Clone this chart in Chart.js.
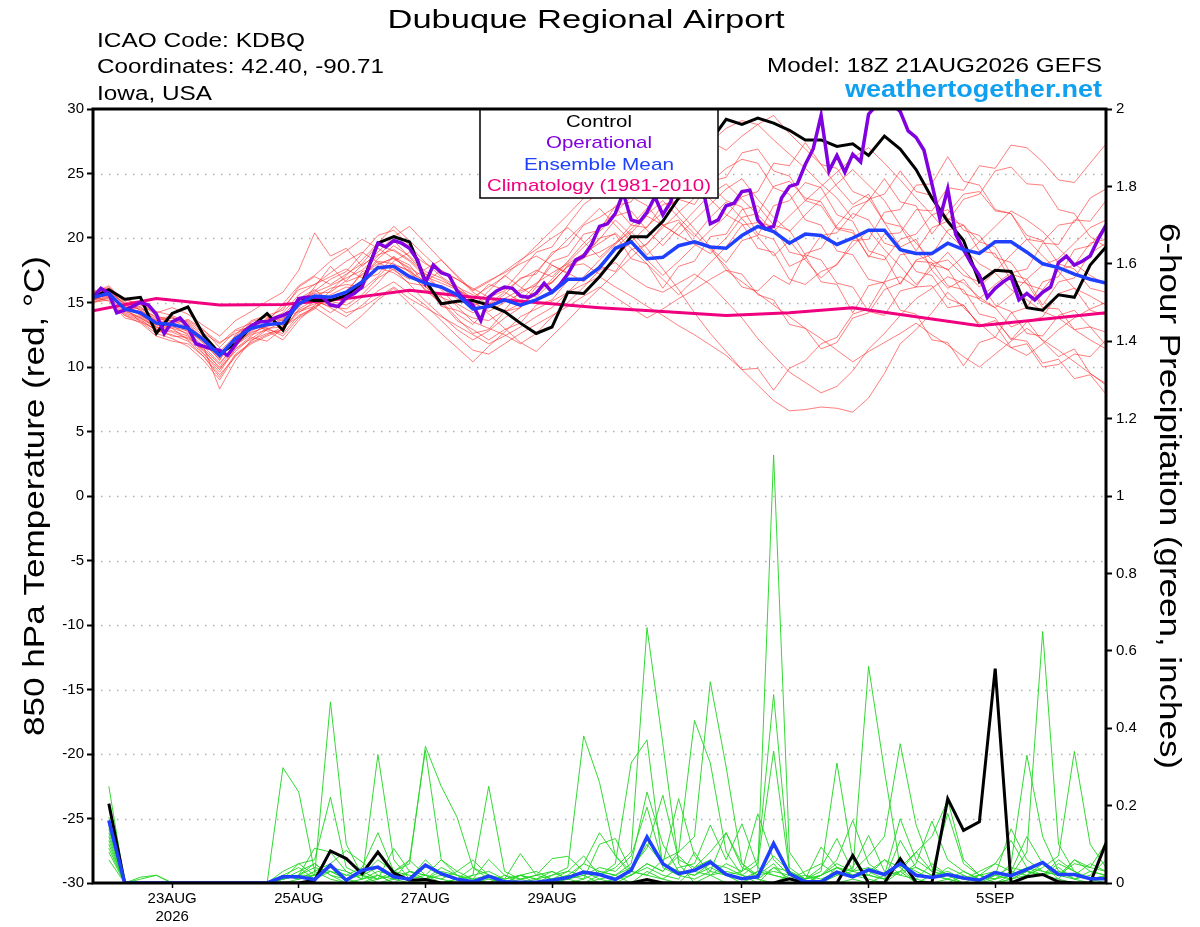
<!DOCTYPE html>
<html>
<head>
<meta charset="utf-8">
<script src="https://cdn.jsdelivr.net/npm/chart.js@4.4.1/dist/chart.umd.min.js"></script>
<style>
  html, body { margin: 0; padding: 0; background: #fff; }
  #wrap { width: 1200px; height: 927px; }
</style>
</head>
<body>
<div id="wrap"><canvas id="c" width="1200" height="927"></canvas></div>
<script>
// forecast hours since 18Z 21AUG2026
const hours6 = [0,6,12,18,24,30,36,42,48,54,60,66,72,78,84,90,96,102,108,114,120,126,132,138,144,150,156,162,168,174,180,186,192,198,204,210,216,222,228,234,240,246,252,258,264,270,276,282,288,294,300,306,312,318,324,330,336,342,348,354,360,366,372,378,384]
const hours3 = [0,3,6,9,12,15,18,21,24,27,30,33,36,39,42,45,48,51,54,57,60,63,66,69,72,75,78,81,84,87,90,93,96,99,102,105,108,111,114,117,120,123,126,129,132,135,138,141,144,147,150,153,156,159,162,165,168,171,174,177,180,183,186,189,192,195,198,201,204,207,210,213,216,219,222,225,228,231,234,237,240,243,246,249,252,255,258,261,264,267,270,273,276,279,282,285,288,291,294,297,300,303,306,309,312,315,318,321,324,327,330,333,336,339,342,345,348,351,354,357,360,363,366,369,372,375,378,381,384]
const precipHours = hours6.slice(1)

const tickHours = [30, 78, 126, 174, 246, 294, 342]
const tickLabels = [['23AUG', '2026'], '25AUG', '27AUG', '29AUG', '1SEP', '3SEP', '5SEP']

// 850 hPa temperature (C)
const controlTemp = [15.4,16.0,15.25,15.4,12.6,14.15,14.65,12.45, 11.05,11.8,13.1,14.15,12.85,15.3,15.15,15.15, 15.55,16.5,19.6,20.1,19.7,16.7,14.9,15.1, 15.15,14.8,14.3,13.4,12.6,13.1,15.8,15.7, 17.0,18.5,20.1,20.1,21.3,23.1,25.5,27.5, 29.2,28.8,29.3,28.9,28.35,27.6,27.6,27.1, 27.3,26.4,27.9,26.9,25.3,23.1,21.3,19.8, 16.6,17.5,17.4,14.6,14.4,15.6,15.4,17.9, 19.3]
const operTemp = [15.4,16.1,15.7,14.2,14.4,14.7,15.0,14.8, 14.1,12.6,13.5,13.8,13.1,11.8,11.6,11.4, 11.3,10.9,11.7,12.7,13.2,13.5,13.5,13.8, 14.0,14.3,15.3,15.4,15.4,15.4,14.8,14.7, 15.4,15.7,16.2,18.0,19.6,19.3,19.8,19.6, 19.2,18.3,16.5,17.9,17.3,17.1,15.9,15.2, 14.8,13.6,15.4,15.9,16.2,16.1,15.5,15.4, 15.7,16.5,15.8,16.4,17.2,18.3,18.6,19.5, 20.9,21.1,21.9,23.5,21.4,21.2,22.0,23.2, 21.8,22.8,25.0,26.0,25.5,24.0,21.1,21.4, 22.5,22.7,23.6,23.7,21.4,20.7,20.9,23.1, 24.0,24.2,25.7,26.9,29.5,25.2,26.4,25.1, 26.5,25.9,29.6,30.3,30.2,30.4,29.8,28.3, 27.8,26.8,24.2,21.5,23.8,20.3,19.1,18.0, 17.1,15.4,16.1,16.6,17.0,15.2,15.7,15.2, 15.8,16.2,18.1,18.6,17.9,18.2,18.6,19.9, 21.0]
const meanTemp = [15.4,15.7,14.5,14.2,13.4,13.3,13.0,12.1, 10.9,12.2,13.0,13.3,13.4,14.9,15.5,15.4, 15.8,16.6,17.7,17.8,17.0,16.5,16.2,15.6, 14.5,14.7,15.2,14.8,15.2,15.8,16.8,16.8, 17.7,19.2,19.7,18.4,18.5,19.4,19.7,19.3, 19.2,20.2,20.9,20.5,19.6,20.3,20.2,19.5, 20.0,20.6,20.6,19.1,18.8,18.8,19.6,19.1, 18.8,19.7,19.7,18.9,18.0,17.7,17.2,16.8, 16.5]
const climHours = [0,24,48,72,96,120,144,168,192,216,240,264,288,312,336,360,384]
const climTemp = [14.35,15.3,14.8,14.85,15.3,15.95,15.4,15.0,14.6,14.3,14.0,14.2,14.6,13.9,13.2,13.7,14.2]

// ensemble members (temperature, 6-hourly)
const m01 = [15.6,16.2,15.0,14.6,13.8,13.9,13.2,12.0, 10.5,12.5,13.6,14.0,14.4,16.2,17.0,16.4, 17.2,18.0,19.5,19.0,18.2,17.0,16.5,16.0, 15.2,16.4,16.0,17.4,18.9,19.3,21.0,22.6, 23.5,24.8,25.5,24.0,25.8,27.0,28.2,27.5, 26.8,27.9,28.8,29.5,28.1,26.9,25.7,24.0, 22.6,23.4,21.2,19.3,19.9,17.5,16.1,16.8, 15.2,14.6,13.1,13.6,12.0,10.8,11.4,9.5, 8.6]
const m02 = [15.2,15.5,14.1,13.7,12.8,12.5,12.0,10.8, 9.4,10.8,12.0,12.9,13.5,15.0,15.8,16.3, 16.9,17.5,18.6,19.8,18.5,17.2,16.0,14.7, 13.5,13.0,12.5,11.8,12.6,13.9,15.0,16.2, 17.5,18.1,17.0,16.2,15.8,16.5,17.2,16.4, 15.1,13.8,12.2,10.9,9.6,8.8,8.0,8.5, 9.7,11.4,12.6,14.0,15.3,16.1,17.0,16.5, 15.4,14.6,15.6,16.8,17.9,18.4,19.6,20.8, 21.4]
const m03 = [15.0,15.4,14.8,14.9,14.0,13.5,13.6,12.8, 11.9,12.6,13.2,13.0,12.4,13.8,14.5,15.6, 16.2,16.0,17.0,18.2,18.9,18.0,17.4,16.8, 16.1,15.4,15.9,16.8,17.5,17.0,18.2,19.6, 20.8,22.0,23.2,22.5,21.0,20.2,21.4,22.6, 23.8,24.6,23.0,21.6,20.5,21.8,23.0,24.2, 25.3,24.1,22.9,21.0,19.6,18.3,17.5,18.6, 19.7,20.9,22.1,21.4,20.5,19.2,18.0,17.1, 16.4]
const m04 = [15.8,15.9,14.3,13.9,13.1,12.8,12.4,11.2, 10.0,11.6,12.8,13.4,14.0,15.3,16.0,15.1, 14.8,15.6,16.9,17.6,16.4,15.1,14.0,12.9, 12.1,12.8,13.8,14.6,15.9,16.6,17.8,18.5, 18.9,19.6,20.5,19.2,17.6,16.0,14.2,12.6, 11.2,9.8,8.6,7.4,6.6,6.7,6.9,6.8, 6.5,7.6,9.5,11.8,12.9,14.2,15.8,14.6, 13.4,12.3,11.5,10.9,11.8,12.9,13.8,14.5, 15.0]
const m05 = [15.3,16.0,15.3,14.8,14.2,14.6,14.1,13.2, 12.4,13.6,14.3,15.1,15.8,17.5,20.4,18.6, 19.2,17.8,18.9,20.1,20.9,19.6,18.3,17.0, 15.8,15.0,14.3,14.9,15.6,16.8,18.1,19.3, 20.5,21.7,22.1,20.6,19.4,20.8,22.1,23.4, 24.2,23.0,21.8,20.5,21.7,22.9,24.0,25.1, 26.2,27.0,25.8,24.5,23.1,21.8,20.4,19.2, 18.0,17.3,16.0,15.2,14.3,13.8,12.9,12.1, 11.4]
const m06 = [15.5,15.6,14.6,14.3,13.6,13.0,12.6,11.5, 8.3,10.5,12.1,12.6,12.9,14.4,14.9,15.0, 14.2,14.6,15.4,16.2,15.3,14.6,13.9,13.2, 12.5,11.8,12.4,13.1,13.9,14.6,15.8,17.0, 18.3,19.5,20.7,21.8,22.9,21.6,20.3,19.1, 17.8,16.2,15.9,17.1,16.4,18.8,19.2,21.0, 22.4,22.9,24.6,22.8,22.5,20.3,21.9,23.4, 23.6,22.1,21.9,20.2,19.8,18.0,17.6,16.1, 15.8]
const m07 = [15.1,15.3,14.0,13.6,12.9,12.7,12.2,11.4, 10.2,11.9,12.6,13.2,13.8,14.3,14.7,15.2, 15.9,17.2,18.0,18.4,17.7,16.9,16.1,15.3, 14.6,15.9,17.1,16.2,15.4,16.6,17.8,18.0, 17.2,18.5,19.7,18.3,17.1,18.2,19.4,20.6, 21.7,23.2,23.6,25.8,25.6,27.4,25.7,25.4, 23.6,23.1,21.2,20.9,19.0,20.8,21.3,23.0, 23.4,25.2,25.5,24.2,24.1,22.2,21.9,20.1, 19.3]
const m08 = [15.7,16.3,15.1,14.4,13.7,13.8,13.5,12.6, 11.8,12.9,13.4,12.8,12.1,13.6,14.8,15.9, 17.1,18.3,19.6,20.9,19.8,18.6,17.5,16.3, 15.2,14.1,13.0,11.9,11.2,12.4,13.6,14.9, 16.1,17.3,18.5,19.6,20.8,22.0,23.1,24.3, 25.4,26.1,25.8,23.9,23.4,21.4,21.0,19.0, 18.7,16.8,16.5,14.4,14.1,12.1,11.9,10.1, 11.9,12.3,14.2,14.6,16.6,17.0,19.1,19.4, 21.0]
const m09 = [15.4,15.8,14.9,14.0,13.2,13.4,12.9,11.8, 10.6,12.2,13.5,13.9,13.2,15.4,15.0,14.2, 15.1,16.8,17.2,18.6,17.3,16.0,15.4,14.9, 14.2,14.9,15.8,15.1,16.4,17.9,17.2,18.8, 19.9,21.4,20.2,18.7,19.9,21.2,20.1,21.6, 22.8,21.5,20.1,18.6,19.8,18.3,16.9,18.0, 19.4,20.6,19.1,17.8,16.4,17.6,18.9,17.5, 16.2,17.4,18.7,19.9,18.6,17.4,16.1,15.5, 14.8]
const m10 = [15.9,16.1,14.7,14.5,13.9,13.3,13.7,12.9, 11.5,12.8,13.1,13.7,14.6,16.0,16.4,17.3, 18.2,18.9,18.1,17.5,16.8,17.6,18.3,17.1, 15.9,16.6,17.4,18.3,19.1,20.0,20.8,19.7, 18.5,19.6,21.0,22.3,23.6,22.1,20.7,19.3, 18.1,19.8,20.2,22.5,22.9,24.3,23.9,21.8, 21.3,19.0,18.6,16.4,18.3,18.7,20.6,21.0, 19.7,19.3,17.2,16.8,14.8,16.6,16.9,18.8, 19.6]
const m11 = [15.0,15.2,13.8,13.5,12.6,12.2,11.6,10.5, 9.0,10.9,11.8,12.4,12.9,14.5,15.2,14.6, 13.9,14.8,15.9,16.6,15.7,14.8,13.6,12.4, 11.3,11.0,11.8,12.6,13.3,14.0,14.7,15.5, 16.2,15.4,14.6,13.8,14.5,15.3,16.0,16.8, 17.5,16.6,15.7,14.8,13.9,13.0,12.2,11.3, 10.4,11.2,11.9,12.6,13.4,12.5,11.7,10.8, 10.0,11.0,12.0,13.0,12.1,11.3,10.4,9.5, 8.7]
const m12 = [15.6,15.9,14.4,14.7,13.5,13.6,13.1,12.3, 11.2,12.4,13.3,13.6,14.2,15.6,16.4,17.0, 17.6,16.9,18.4,19.4,18.6,17.4,16.9,16.0, 15.4,16.2,17.0,18.2,19.4,20.6,21.8,23.1, 24.2,25.4,26.3,25.1,24.0,25.2,26.3,27.4, 28.5,29.1,28.8,27.6,26.5,25.4,24.2,23.1, 21.5,23.0,23.4,25.2,23.6,23.3,21.5,21.0, 19.0,18.8,16.7,16.5,14.6,14.5,12.9,13.1, 11.7]
const m13 = [15.2,15.7,14.2,13.8,13.0,13.2,12.5,11.0, 9.8,11.4,12.4,13.5,14.9,16.3,17.1,18.2, 19.0,19.9,19.2,18.4,17.6,16.2,15.5,14.1, 13.3,14.6,15.3,16.0,17.4,18.7,19.9,21.1, 22.3,21.0,19.7,20.9,22.0,23.1,24.2,23.0, 21.8,21.1,19.2,18.9,16.8,16.4,17.4,17.9, 19.8,19.9,22.0,22.2,24.1,24.2,26.3,24.4, 24.1,22.2,21.9,19.9,19.7,21.0,21.2,23.1, 23.8]
const m14 = [15.5,15.5,14.7,14.0,13.3,13.1,12.8,11.9, 10.7,12.0,12.7,13.1,13.7,15.2,15.7,15.8, 16.7,17.9,18.7,19.1,18.3,17.2,16.7,16.1, 15.0,14.3,15.0,15.7,16.5,17.3,18.0,18.8, 19.6,20.4,19.2,18.0,16.8,15.6,16.8,18.1, 19.3,21.0,21.2,20.9,18.9,18.6,16.6,16.4, 14.2,16.3,16.6,18.7,18.9,17.9,17.6,15.7, 15.3,16.4,17.3,17.6,19.6,19.5,21.4,21.3, 22.9]
const m15 = [15.3,16.0,15.2,14.9,14.3,14.0,13.4,12.4, 11.0,12.3,12.9,13.4,13.9,14.6,16.2,17.8, 16.6,17.1,18.2,18.0,17.4,16.6,17.5,16.8, 16.0,16.7,17.3,18.0,18.6,17.9,17.3,16.6, 17.9,19.2,20.4,21.7,21.0,20.2,19.5,18.8, 20.0,21.6,21.9,24.0,24.4,23.1,22.8,20.8, 20.6,18.5,20.3,20.4,22.2,22.1,23.9,23.7, 25.6,25.4,27.2,27.0,25.9,24.5,24.3,25.8, 27.3]
const m16 = [15.4,15.1,14.0,13.4,12.4,12.0,11.8,10.8, 9.2,11.0,11.9,12.5,13.1,13.9,14.6,13.8, 13.0,14.0,15.2,16.1,14.9,13.8,12.6,11.5, 10.4,11.6,12.7,13.9,14.5,15.1,15.8,16.4, 17.0,16.2,15.5,14.7,14.0,13.2,12.5,11.7, 10.9,9.8,9.9,8.2,9.9,10.5,11.8,12.3, 14.1,14.5,16.6,17.0,16.2,16.3,14.6,14.8, 13.2,13.3,11.5,11.8,10.0,10.2,11.0,10.8, 12.1]
const m17 = [15.5,15.9,14.9,14.1,13.6,13.8,13.3,12.2, 10.8,12.1,12.9,13.8,13.6,15.1,15.9,16.8, 17.4,18.8,20.2,20.6,19.4,18.1,17.0,16.2, 15.6,14.8,15.6,16.9,17.2,18.9,19.4,21.0, 21.6,22.4,21.0,20.8,22.6,22.9,24.6,24.1, 22.9,22.4,20.3,19.9,17.8,18.4,20.2,20.4, 21.9,21.4,19.6,19.2,17.4,17.1,15.3,14.8, 13.2,13.6,12.2,12.0,10.3,10.6,9.1,9.4, 7.9]
const m18 = [15.3,15.6,14.4,13.8,13.1,13.0,12.1,11.0, 9.6,11.4,12.2,13.0,13.1,14.8,15.4,16.1, 16.4,16.2,17.9,18.5,17.9,16.4,15.1,13.8, 12.6,12.9,14.3,14.6,16.2,16.5,17.9,18.4, 20.0,20.3,18.4,18.0,16.1,17.8,18.2,20.1, 20.3,22.2,22.5,21.0,20.6,18.7,18.3,16.5, 16.2,14.3,14.0,15.9,16.2,18.0,18.3,17.1, 16.6,14.8,14.3,12.6,12.4,14.0,14.4,13.1, 12.7]
const m19 = [15.8,16.0,14.9,14.4,13.4,13.5,12.7,11.6, 10.3,11.7,12.5,12.9,12.6,14.0,14.6,15.5, 15.7,17.4,17.7,17.3,16.5,16.3,14.7,14.4, 13.8,13.6,14.4,15.9,16.3,18.2,18.6,20.3, 20.6,22.5,22.8,24.6,24.9,23.0,22.6,24.4, 24.7,26.6,26.9,25.2,24.8,22.9,22.5,20.7, 20.4,18.6,18.3,19.9,20.3,21.8,22.2,20.6, 20.2,18.5,18.1,16.4,16.0,17.5,17.9,19.6, 19.9]
const m20 = [15.2,15.4,14.6,13.5,12.9,12.4,12.3,11.3, 9.9,11.2,12.3,12.0,13.0,14.2,15.1,14.7, 14.5,15.4,16.5,17.9,17.5,15.9,15.0,13.6, 12.9,12.1,12.9,13.4,14.8,15.2,16.7,16.9, 17.8,17.4,19.1,19.5,21.0,21.4,19.6,19.3, 17.5,17.2,15.6,15.2,13.3,13.0,11.4,11.9, 13.8,14.2,16.0,16.5,18.2,18.1,16.3,16.0, 14.1,13.8,12.1,13.5,13.9,15.7,16.1,14.4, 14.0]
const members = [m01, m02, m03, m04, m05, m06, m07, m08, m09, m10, m11, m12, m13, m14, m15, m16, m17, m18, m19, m20]

// 6-hour precipitation (inches), hours 6..384
const controlPrecip = [0.205,0,0,0,0,0,0,0, 0,0,0,0,0,0.007,0.083,0.063, 0.024,0.08,0.026,0.007,0.009,0,0,0, 0,0,0,0,0,0,0,0, 0,0,0.009,0,0,0,0,0, 0,0,0,0.011,0,0,0,0.071, 0,0,0.063,0.002,0,0.218,0.136,0.158, 0.554,0,0.016,0.022,0.003,0,0,0.103]
const meanPrecip = [0.162,0,0,0,0,0,0,0, 0,0,0,0.016,0.016,0.009,0.046,0.007, 0.033,0.041,0.016,0.01,0.046,0.024,0.01,0.003, 0.018,0.003,0.002,0.002,0.007,0.014,0.028,0.022, 0.009,0.033,0.119,0.05,0.024,0.033,0.054,0.022, 0.011,0.016,0.102,0.024,0.003,0.003,0.028,0.016, 0.034,0.022,0.05,0.02,0.014,0.022,0.013,0.007, 0.027,0.019,0.035,0.053,0.022,0.022,0.011,0.011]
const g01 = [0.25,0,0,0,0,0,0,0, 0,0,0,0.01,0.02,0.02,0.468,0.1, 0.02,0,0.01,0,0,0,0,0, 0,0,0,0,0,0.01,0.03,0.02, 0.04,0.08,0.66,0.36,0.05,0,0.02,0, 0,0.02,0.05,0,0,0,0.02,0.03, 0.56,0.29,0.04,0,0,0.01,0,0, 0,0.01,0.02,0.05,0.01,0,0,0]
const g02 = [0.2,0,0,0,0,0,0,0, 0,0,0,0.298,0.235,0.03,0.01,0, 0,0.02,0,0,0.01,0.03,0.02,0, 0,0,0,0,0,0,0.01,0.03, 0.02,0,0.03,0.01,0,0.04,0.06,0.02, 0,0.03,1.106,0.08,0.02,0,0,0.01, 0,0.02,0.05,0.01,0,0,0.02,0, 0.01,0.05,0.33,0.12,0.03,0.01,0,0.02]
const g03 = [0.17,0,0,0,0,0,0,0, 0,0,0,0,0.01,0.02,0.04,0.03, 0.01,0.332,0.06,0.01,0,0,0.01,0, 0.02,0,0,0,0.01,0,0,0.01, 0,0.02,0.05,0.03,0.08,0.12,0.52,0.3, 0.05,0.01,0,0.02,0,0,0.04,0.02, 0.01,0,0.03,0,0.02,0.01,0,0.02, 0,0.02,0.08,0.65,0.1,0.03,0.01,0]
const g04 = [0.15,0,0,0,0,0,0,0, 0,0,0,0.02,0.04,0.01,0.03,0.01, 0,0.01,0.03,0.05,0.353,0.25,0.17,0.04, 0.01,0,0.02,0,0,0.01,0.02,0, 0.01,0.03,0.02,0.06,0.08,0.42,0.31,0.08, 0.02,0,0.04,0.01,0,0.02,0.05,0.03, 0.07,0.12,0.36,0.15,0.04,0.02,0,0, 0,0.01,0.03,0.02,0.05,0.03,0.01,0.01]
const g05 = [0.13,0,0.01,0.02,0,0,0,0, 0,0,0,0.01,0.03,0.05,0.02,0, 0.01,0.02,0,0.03,0.02,0,0.01,0.02, 0.25,0.03,0.01,0,0.02,0.04,0.38,0.26, 0.07,0.03,0.1,0.05,0.03,0.02,0.04,0.02, 0.03,0.06,0.487,0.04,0.01,0.03,0.31,0.06, 0.02,0.01,0.05,0.03,0.01,0.04,0.02,0, 0.02,0.04,0.03,0.02,0.01,0.06,0.03,0.02]
const g06 = [0.11,0,0,0,0,0,0,0, 0,0,0,0.03,0.05,0.06,0.222,0.04, 0.02,0.04,0.01,0.06,0.343,0.06,0.03,0.01, 0,0.02,0,0.01,0.03,0.01,0,0.02, 0.05,0.31,0.37,0.04,0.02,0.01,0.03,0.13, 0.04,0.02,0.07,0.03,0,0.02,0.04,0.02, 0.03,0.06,0.02,0.01,0.05,0.02,0.01,0.03, 0.05,0.03,0.02,0.04,0.07,0.34,0.1,0.04]
const g07 = [0.1,0,0.015,0.02,0,0,0,0, 0,0,0,0.01,0.02,0.04,0.03,0.02, 0.04,0.13,0.03,0.02,0.01,0.04,0.02,0, 0.01,0,0.02,0.01,0,0.02,0.05,0.03, 0.02,0.05,0.235,0.1,0.03,0.02,0.05,0.04, 0.02,0.05,0.341,0.03,0.01,0.02,0.04,0.03, 0.02,0.06,0.04,0.08,0.12,0.214,0.06,0.02, 0.03,0.02,0.04,0.03,0.02,0.05,0.04,0.03]
const g08 = [0.09,0,0,0,0,0,0,0, 0,0,0,0.01,0.02,0.09,0.08,0.03, 0.01,0.03,0.02,0.01,0.02,0.01,0,0.02, 0.03,0.01,0.076,0.02,0.01,0.03,0.02,0.04, 0.03,0.07,0.196,0.05,0.218,0.07,0.03,0.02, 0.01,0.03,0.02,0.01,0.03,0.05,0.02,0.04, 0.123,0.03,0.02,0.05,0.16,0.06,0.03,0.01, 0.02,0.14,0.06,0.03,0.02,0.01,0.03,0.02]
const g09 = [0.08,0,0,0,0,0,0,0, 0,0,0,0.02,0.01,0.03,0.05,0.084, 0.054,0.02,0.01,0.03,0.01,0.02,0.01,0.01, 0.02,0,0.01,0.02,0.063,0.069,0.03,0.01, 0.02,0.04,0.09,0.227,0.06,0.04,0.08,0.13, 0.05,0.02,0.03,0.02,0.01,0.04,0.115,0.03, 0.04,0.02,0.166,0.06,0.03,0.02,0.01,0.02, 0.01,0.03,0.12,0.05,0.02,0.06,0.04,0.103]
const g10 = [0.06,0,0,0,0,0,0,0, 0,0,0,0.02,0.01,0.02,0.04,0.02, 0.02,0.06,0.03,0.059,0.02,0.01,0.03,0.059, 0.02,0.01,0.02,0.01,0.02,0.03,0.07,0.02, 0.01,0.02,0.05,0.03,0.07,0.03,0.02,0.05, 0.03,0.179,0.06,0.02,0.01,0.02,0.06,0.162, 0.05,0.02,0.03,0.04,0.02,0.03,0.01,0.02, 0.05,0.11,0.04,0.02,0.03,0.02,0.05,0.03]
const g11 = [0.12,0,0,0,0,0,0,0, 0,0,0,0.01,0.05,0.02,0.03,0.01, 0.02,0.01,0.089,0.03,0.02,0.06,0.02,0.01, 0.061,0.02,0.01,0.02,0.03,0.01,0.05,0.13, 0.071,0.02,0.04,0.02,0.01,0.08,0.02,0.03, 0.02,0.01,0.04,0.03,0.01,0.093,0.04,0.02, 0.03,0.01,0.11,0.04,0.02,0.01,0.03,0.01, 0.02,0.01,0.03,0.02,0.04,0.01,0.02,0.06]
const g12 = [0.14,0,0,0,0,0,0,0, 0,0,0,0.01,0.02,0.05,0.02,0.01, 0.03,0.01,0.02,0.01,0.06,0.02,0.01,0.04, 0.02,0.01,0.02,0.03,0.01,0.02,0.01,0.1, 0.115,0.03,0.02,0.01,0.04,0.05,0.15,0.06, 0.153,0.04,0.02,0.01,0.02,0.01,0.03,0.02, 0.02,0.01,0.03,0.08,0.03,0.18,0.05,0.02, 0.01,0.02,0.03,0.02,0.06,0.03,0.01,0.02]
const precipMembers = [g01, g02, g03, g04, g05, g06, g07, g08, g09, g10, g11, g12]

const FONT = '"Liberation Sans", Arial, Helvetica, sans-serif'
const C_CONTROL = '#000000'
const C_OPER = '#8000e0'
const C_MEAN = '#2040ff'
const C_CLIM = '#f0007f'
const C_RED = 'rgba(255,40,40,0.6)'
const C_GREEN = 'rgba(40,215,40,0.95)'

// sanity check of array lengths
members.forEach((m, i) => { if (m.length !== hours6.length) throw new Error('member ' + (i + 1) + ' has ' + m.length) })
precipMembers.forEach((m, i) => { if (m.length !== precipHours.length) throw new Error('precip member ' + (i + 1) + ' has ' + m.length) })
if (operTemp.length !== hours3.length) throw new Error('operational ' + operTemp.length)
;[controlTemp, meanTemp].forEach((a, i) => { if (a.length !== hours6.length) throw new Error('line ' + i + ' ' + a.length) })
;[controlPrecip, meanPrecip].forEach((a, i) => { if (a.length !== precipHours.length) throw new Error('precip ' + i + ' ' + a.length) })

function pts(xs, ys) {
	return ys.map((y, i) => ({ x: xs[i], y: y }))
}

const datasets = [
	{ data: pts(hours6, meanTemp), borderColor: C_MEAN, borderWidth: 3.5, yAxisID: 'y', order: 1 },
	{ data: pts(hours3, operTemp), borderColor: C_OPER, borderWidth: 3.5, yAxisID: 'y', order: 2 },
	{ data: pts(hours6, controlTemp), borderColor: C_CONTROL, borderWidth: 3, yAxisID: 'y', order: 3 },
	{ data: pts(climHours, climTemp), borderColor: C_CLIM, borderWidth: 3, yAxisID: 'y', order: 4 },
	{ data: pts(precipHours, meanPrecip), borderColor: C_MEAN, borderWidth: 3.5, yAxisID: 'yp', order: 1 },
	{ data: pts(precipHours, controlPrecip), borderColor: C_CONTROL, borderWidth: 3, yAxisID: 'yp', order: 3 }
]
members.forEach(m => {
	datasets.push({ data: pts(hours6, m), borderColor: C_RED, borderWidth: 1, yAxisID: 'y', order: 6 })
})
precipMembers.forEach(m => {
	datasets.push({ data: pts(precipHours, m), borderColor: C_GREEN, borderWidth: 1, yAxisID: 'yp', order: 5 })
})

const legendItems = [
	['Control', C_CONTROL, 66],
	['Operational', C_OPER, 106],
	['Ensemble Mean', C_MEAN, 150],
	['Climatology (1981-2010)', C_CLIM, 224]
]

// draw text squeezed or stretched horizontally to a given width
function fitText(ctx, text, x, y, width) {
	const w = ctx.measureText(text).width
	ctx.save()
	ctx.translate(x, y)
	ctx.scale(width / w, 1)
	ctx.fillText(text, 0, 0)
	ctx.restore()
}

const decor = {
	id: 'decor',
	beforeDraw(chart) {
		const ctx = chart.ctx
		ctx.save()
		ctx.fillStyle = '#fff'
		ctx.fillRect(0, 0, chart.width, chart.height)
		ctx.restore()
	},
	beforeDatasetsDraw(chart) {
		const { ctx, chartArea: a, scales } = chart
		ctx.save()
		ctx.strokeStyle = '#b0b0b0'
		ctx.lineWidth = 1.3
		ctx.setLineDash([1.5, 6.5])
		for (let v = -25; v <= 25; v += 5) {
			const y = Math.round(scales.y.getPixelForValue(v)) + 0.5
			ctx.beginPath()
			ctx.moveTo(a.left, y)
			ctx.lineTo(a.right, y)
			ctx.stroke()
		}
		ctx.restore()
	},
	afterDatasetsDraw(chart) {
		const { ctx, chartArea: a } = chart
		ctx.save()
		// legend box
		const bx = 480, by = a.top, bw = 238, bh = 89
		ctx.fillStyle = '#fff'
		ctx.fillRect(bx, by, bw, bh)
		ctx.strokeStyle = '#000'
		ctx.lineWidth = 1.5
		ctx.strokeRect(bx, by, bw, bh)
		ctx.font = '17px ' + FONT
		ctx.textAlign = 'center'
		ctx.textBaseline = 'middle'
		legendItems.forEach((it, i) => {
			ctx.fillStyle = it[1]
			fitText(ctx, it[0], bx + bw / 2, by + 13 + i * 21.5, it[2])
		})
		// frame
		ctx.strokeStyle = '#000'
		ctx.lineWidth = 3
		ctx.strokeRect(a.left, a.top, a.right - a.left, a.bottom - a.top)
		ctx.restore()
	},
	afterDraw(chart) {
		const ctx = chart.ctx
		ctx.save()
		ctx.fillStyle = '#000'
		ctx.textBaseline = 'alphabetic'
		ctx.textAlign = 'center'
		ctx.font = '25px ' + FONT
		fitText(ctx, 'Dubuque Regional Airport', 586, 28, 397)
		ctx.textAlign = 'left'
		ctx.font = '20px ' + FONT
		fitText(ctx, 'ICAO Code: KDBQ', 97, 47, 208)
		fitText(ctx, 'Coordinates: 42.40, -90.71', 97, 73, 287)
		fitText(ctx, 'Iowa, USA', 97, 100, 115)
		ctx.textAlign = 'right'
		fitText(ctx, 'Model: 18Z 21AUG2026 GEFS', 1102, 72, 335)
		ctx.fillStyle = '#10a0f0'
		ctx.font = 'bold 23px ' + FONT
		fitText(ctx, 'weathertogether.net', 1102, 97, 257)
		// axis titles
		ctx.fillStyle = '#000'
		ctx.font = '29px ' + FONT
		ctx.textAlign = 'center'
		ctx.textBaseline = 'middle'
		ctx.save()
		ctx.translate(36, 496)
		ctx.rotate(-Math.PI / 2)
		fitText(ctx, '850 hPa Temperature (red, \u00B0C)', 0, 0, 480)
		ctx.restore()
		ctx.save()
		ctx.translate(1168, 496)
		ctx.rotate(Math.PI / 2)
		fitText(ctx, '6-hour Precipitation (green, inches)', 0, 0, 546)
		ctx.restore()
		ctx.restore()
	}
}

Chart.defaults.font.family = FONT
Chart.defaults.color = '#000'

new Chart(document.getElementById('c'), {
	type: 'line',
	data: { datasets },
	options: {
		responsive: false,
		animation: false,
		devicePixelRatio: 1,
		layout: { padding: { top: 109, left: 0, right: 0, bottom: 0 } },
		plugins: { legend: { display: false }, tooltip: { enabled: false } },
		elements: { point: { radius: 0 }, line: { tension: 0, borderJoinStyle: 'miter' } },
		scales: {
			x: {
				type: 'linear', min: 0, max: 384,
				afterBuildTicks: s => { s.ticks = tickHours.map(v => ({ value: v })) },
				afterFit: s => { s.height = 44 },
				ticks: {
					autoSkip: false, maxRotation: 0, padding: 2,
					font: { size: 15 }, color: '#000',
					callback: v => tickLabels[tickHours.indexOf(v)]
				},
				grid: { drawOnChartArea: false, tickLength: 5, tickColor: '#000', tickWidth: 1.5 },
				border: { display: false }
			},
			y: {
				position: 'left', min: -30, max: 30,
				afterFit: s => { s.width = 93 },
				ticks: { stepSize: 5, padding: 3, font: { size: 15 }, color: '#000' },
				grid: { drawOnChartArea: false, tickLength: 6, tickColor: '#000', tickWidth: 2 },
				border: { display: false }
			},
			yp: {
				position: 'right', min: 0, max: 2,
				afterFit: s => { s.width = 94 },
				ticks: {
					stepSize: 0.2, padding: 4, font: { size: 15 }, color: '#000',
					callback: v => String(Math.round(v * 10) / 10)
				},
				grid: { drawOnChartArea: false, tickLength: 6, tickColor: '#000', tickWidth: 2 },
				border: { display: false }
			}
		}
	},
	plugins: [decor]
})
</script>
</body>
</html>
